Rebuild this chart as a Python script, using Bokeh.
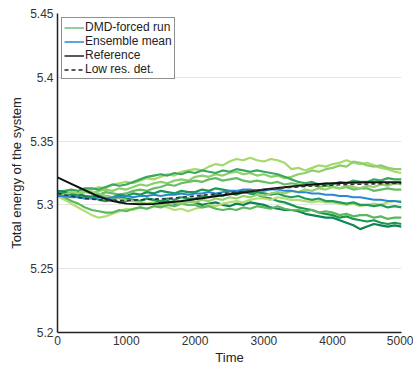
from bokeh.plotting import figure
from bokeh.models import FixedTicker, Range1d
from bokeh.embed import file_html
from bokeh.resources import INLINE

time = list(range(0, 5001, 100))
time_ref = list(range(0, 5001, 200))

run1 = [5.309, 5.308, 5.310, 5.309, 5.311, 5.312, 5.314, 5.313, 5.316, 5.317, 5.318, 5.317, 5.319, 5.321, 5.320, 5.322, 5.324, 5.323, 5.326, 5.327, 5.328, 5.327, 5.330, 5.332, 5.331, 5.334, 5.336, 5.335, 5.337, 5.335, 5.334, 5.336, 5.335, 5.333, 5.328, 5.329, 5.327, 5.329, 5.331, 5.330, 5.332, 5.333, 5.335, 5.333, 5.332, 5.333, 5.331, 5.329, 5.328, 5.326, 5.325]
run2 = [5.308, 5.309, 5.307, 5.309, 5.310, 5.309, 5.311, 5.312, 5.311, 5.313, 5.312, 5.314, 5.316, 5.315, 5.317, 5.318, 5.317, 5.319, 5.320, 5.319, 5.322, 5.323, 5.322, 5.324, 5.323, 5.325, 5.326, 5.324, 5.325, 5.323, 5.324, 5.322, 5.323, 5.321, 5.322, 5.324, 5.325, 5.327, 5.326, 5.328, 5.329, 5.331, 5.330, 5.334, 5.333, 5.331, 5.330, 5.331, 5.329, 5.328, 5.328]
run3 = [5.310, 5.311, 5.312, 5.311, 5.313, 5.313, 5.312, 5.314, 5.316, 5.315, 5.316, 5.318, 5.320, 5.322, 5.323, 5.324, 5.323, 5.325, 5.324, 5.326, 5.325, 5.327, 5.326, 5.325, 5.327, 5.326, 5.328, 5.327, 5.326, 5.327, 5.326, 5.325, 5.324, 5.322, 5.320, 5.318, 5.317, 5.318, 5.316, 5.317, 5.316, 5.318, 5.317, 5.319, 5.318, 5.318, 5.320, 5.319, 5.321, 5.320, 5.320]
run4 = [5.308, 5.307, 5.309, 5.308, 5.306, 5.307, 5.308, 5.310, 5.309, 5.308, 5.309, 5.311, 5.312, 5.311, 5.313, 5.314, 5.316, 5.315, 5.317, 5.318, 5.319, 5.318, 5.320, 5.321, 5.319, 5.320, 5.321, 5.319, 5.318, 5.319, 5.318, 5.317, 5.318, 5.316, 5.317, 5.316, 5.315, 5.316, 5.314, 5.315, 5.314, 5.313, 5.314, 5.312, 5.313, 5.313, 5.311, 5.312, 5.313, 5.312, 5.312]
run5 = [5.309, 5.310, 5.308, 5.309, 5.307, 5.306, 5.308, 5.307, 5.306, 5.308, 5.307, 5.309, 5.308, 5.310, 5.309, 5.311, 5.310, 5.309, 5.311, 5.310, 5.310, 5.312, 5.311, 5.313, 5.312, 5.311, 5.310, 5.311, 5.309, 5.308, 5.306, 5.305, 5.303, 5.302, 5.300, 5.298, 5.297, 5.296, 5.294, 5.293, 5.292, 5.290, 5.291, 5.289, 5.288, 5.287, 5.288, 5.286, 5.285, 5.286, 5.285]
run6 = [5.311, 5.310, 5.309, 5.308, 5.307, 5.306, 5.307, 5.305, 5.304, 5.306, 5.305, 5.304, 5.303, 5.305, 5.304, 5.302, 5.303, 5.301, 5.302, 5.303, 5.302, 5.300, 5.301, 5.302, 5.300, 5.299, 5.301, 5.300, 5.302, 5.301, 5.300, 5.298, 5.297, 5.296, 5.296, 5.295, 5.293, 5.292, 5.291, 5.290, 5.290, 5.288, 5.286, 5.284, 5.281, 5.283, 5.285, 5.284, 5.283, 5.284, 5.283]
run7 = [5.307, 5.304, 5.301, 5.298, 5.295, 5.292, 5.290, 5.291, 5.293, 5.295, 5.297, 5.296, 5.298, 5.297, 5.299, 5.300, 5.298, 5.296, 5.297, 5.295, 5.297, 5.298, 5.300, 5.299, 5.301, 5.302, 5.303, 5.302, 5.304, 5.305, 5.305, 5.304, 5.306, 5.305, 5.304, 5.304, 5.303, 5.302, 5.303, 5.302, 5.302, 5.301, 5.300, 5.301, 5.299, 5.300, 5.301, 5.300, 5.302, 5.303, 5.303]
run8 = [5.308, 5.306, 5.303, 5.301, 5.298, 5.296, 5.295, 5.294, 5.294, 5.296, 5.295, 5.297, 5.298, 5.297, 5.299, 5.298, 5.300, 5.299, 5.301, 5.300, 5.300, 5.298, 5.299, 5.297, 5.296, 5.297, 5.296, 5.298, 5.297, 5.299, 5.298, 5.297, 5.299, 5.297, 5.296, 5.296, 5.295, 5.296, 5.294, 5.295, 5.294, 5.292, 5.293, 5.291, 5.292, 5.292, 5.290, 5.291, 5.289, 5.290, 5.290]
run9 = [5.310, 5.309, 5.308, 5.306, 5.305, 5.306, 5.304, 5.303, 5.304, 5.302, 5.303, 5.304, 5.303, 5.305, 5.304, 5.303, 5.305, 5.304, 5.306, 5.305, 5.305, 5.307, 5.306, 5.308, 5.307, 5.309, 5.308, 5.310, 5.309, 5.310, 5.309, 5.308, 5.309, 5.307, 5.306, 5.307, 5.305, 5.304, 5.305, 5.303, 5.303, 5.302, 5.301, 5.302, 5.300, 5.300, 5.299, 5.300, 5.298, 5.299, 5.298]
run10 = [5.307, 5.308, 5.310, 5.309, 5.311, 5.310, 5.309, 5.307, 5.306, 5.305, 5.304, 5.303, 5.302, 5.301, 5.302, 5.300, 5.301, 5.302, 5.301, 5.303, 5.302, 5.304, 5.303, 5.305, 5.304, 5.306, 5.305, 5.307, 5.306, 5.308, 5.307, 5.309, 5.310, 5.309, 5.311, 5.310, 5.312, 5.311, 5.313, 5.312, 5.314, 5.313, 5.315, 5.314, 5.313, 5.315, 5.314, 5.316, 5.315, 5.317, 5.316]

ensemble_mean = [5.307, 5.307, 5.306, 5.306, 5.305, 5.305, 5.306, 5.305, 5.306, 5.306, 5.307, 5.306, 5.307, 5.307, 5.308, 5.307, 5.308, 5.308, 5.309, 5.308, 5.309, 5.309, 5.310, 5.309, 5.310, 5.311, 5.311, 5.312, 5.312, 5.311, 5.311, 5.312, 5.312, 5.311, 5.311, 5.310, 5.310, 5.309, 5.309, 5.308, 5.308, 5.307, 5.307, 5.306, 5.306, 5.305, 5.304, 5.304, 5.303, 5.303, 5.302]

reference = [5.3215, 5.3165, 5.3115, 5.3065, 5.3030, 5.3010, 5.3005, 5.3008, 5.3018, 5.3030, 5.3045, 5.3060, 5.3075, 5.3090, 5.3105, 5.3120, 5.3133, 5.3145, 5.3155, 5.3163, 5.3170, 5.3173, 5.3175, 5.3177, 5.3178, 5.3178]
low_res_det = [5.3090, 5.3070, 5.3050, 5.3040, 5.3035, 5.3035, 5.3040, 5.3045, 5.3050, 5.3060, 5.3070, 5.3080, 5.3090, 5.3100, 5.3110, 5.3120, 5.3130, 5.3138, 5.3145, 5.3150, 5.3155, 5.3160, 5.3162, 5.3165, 5.3167, 5.3168]

runs = [run1, run2, run3, run4, run5, run6, run7, run8, run9, run10]
run_colors = ["#a6d96a", "#8ccf6a", "#3aa85e", "#66bd63", "#1a9850", "#0f8452",
              "#b3de77", "#5cb85c", "#239b5e", "#93d36e"]

y_ticks = [5.2, 5.25, 5.3, 5.35, 5.4, 5.45]
y_tick_labels = ["5.2", "5.25", "5.3", "5.35", "5.4", "5.45"]
x_ticks = [0, 1000, 2000, 3000, 4000, 5000]

legend_labels = ["DMD-forced run", "Ensemble mean", "Reference", "Low res. det."]

FONT = "Liberation Sans"
NAN = float("nan")

p = figure(width=413, height=368, output_backend="svg", toolbar_location=None,
           x_range=Range1d(0, 5000), y_range=Range1d(5.2, 5.45),
           min_border_left=57, min_border_right=12, min_border_top=13, min_border_bottom=36)

for r, c in zip(runs, run_colors):
    p.line(time, r, line_color=c, line_width=2.2)

p.line(time, ensemble_mean, line_color="#2b87d3", line_width=2)
p.line(time_ref, reference, line_color="#111111", line_width=2)
p.line(time_ref, low_res_det, line_color="#333333", line_width=1.6, line_dash="4 3")

# legend-only entries (no visible data)
p.line([NAN, NAN], [NAN, NAN], line_color="#8fd19e", line_width=2, legend_label=legend_labels[0])
p.line([NAN, NAN], [NAN, NAN], line_color="#5aa6e0", line_width=2, legend_label=legend_labels[1])
p.line([NAN, NAN], [NAN, NAN], line_color="#222222", line_width=1.5, legend_label=legend_labels[2])
p.line([NAN, NAN], [NAN, NAN], line_color="#222222", line_width=1.5, line_dash="4 3", legend_label=legend_labels[3])

leg = p.legend[0]
leg.location = "top_left"
leg.margin = 4
leg.padding = 2
leg.spacing = 0
leg.label_height = 13
leg.glyph_height = 13
leg.glyph_width = 20
leg.label_standoff = 1
leg.label_text_font = FONT
leg.label_text_font_size = "12px"
leg.label_text_color = "#222222"
leg.border_line_color = "#222222"
leg.border_line_width = 1
leg.background_fill_alpha = 1

p.outline_line_color = None
p.xgrid.grid_line_color = None
p.ygrid.grid_line_color = "#e6e6e6"
p.ygrid.ticker = FixedTicker(ticks=y_ticks)

p.yaxis.ticker = FixedTicker(ticks=y_ticks)
p.yaxis.major_label_overrides = {t: l for t, l in zip(y_ticks, y_tick_labels)}
p.xaxis.ticker = FixedTicker(ticks=x_ticks)

for ax in (p.xaxis[0], p.yaxis[0]):
    ax.major_tick_line_color = None
    ax.minor_tick_line_color = None
    ax.major_tick_out = 0
    ax.major_tick_in = 0
    ax.minor_tick_out = 0
    ax.minor_tick_in = 0
    ax.axis_line_color = "#222222"
    ax.axis_line_width = 1.5
    ax.major_label_text_font = FONT
    ax.major_label_text_font_size = "12px"
    ax.major_label_text_color = "#333333"
    ax.axis_label_text_font = FONT
    ax.axis_label_text_font_size = "13px"
    ax.axis_label_text_font_style = "normal"
    ax.axis_label_text_color = "#222222"

p.xaxis.axis_label = "Time"
p.yaxis.axis_label = "Total energy of the system"
p.xaxis.major_label_standoff = 3
p.xaxis.axis_label_standoff = 2
p.yaxis.major_label_standoff = 4
p.yaxis.axis_label_standoff = 3

open("out.html", "w").write(file_html(p, INLINE))
